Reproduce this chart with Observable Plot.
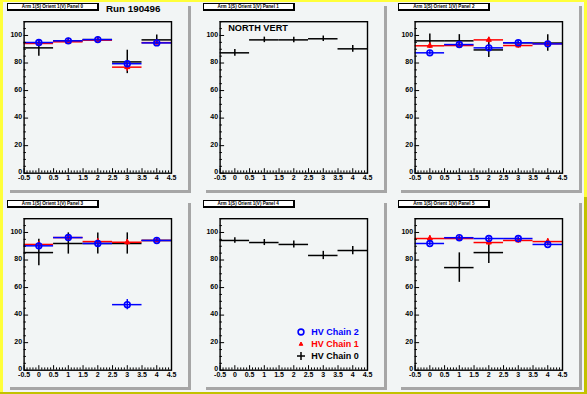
<!DOCTYPE html>
<html><head><meta charset="utf-8">
<script src="https://cdn.jsdelivr.net/npm/d3@7"></script>
<script src="https://cdn.jsdelivr.net/npm/@observablehq/plot@0.6"></script>
<style>
body{margin:0;background:#f2f5f5;}
#canvas{position:relative;width:587px;height:394px;overflow:hidden;background:#f2f5f5;font-family:"Liberation Sans",Arial,sans-serif;}
.pad{position:absolute;width:196px;height:197px;}
.box{position:absolute;left:7px;top:3px;width:181px;height:187px;background:#f2f5f5;box-shadow:3px 3px 0 #a6a6a6;}
.tbox{position:absolute;left:7px;top:3px;width:89px;height:5px;background:#fff;border:1px solid #000;border-right-width:2px;border-bottom-width:2px;font-size:4.6px;line-height:5px;text-align:center;font-weight:bold;white-space:nowrap;overflow:hidden;}
.pad svg{position:absolute;left:0;top:0;overflow:visible;}
.note{position:absolute;font-weight:bold;white-space:nowrap;line-height:1;}
.leg{position:absolute;font-weight:bold;font-size:9px;white-space:nowrap;line-height:1;}
.edge{position:absolute;}
</style>
</head><body>
<div id="canvas"></div>
<script>
const bins = [0, 1, 2, 3, 4];
const panelTitles = ["Arm 1(S) Orient 1(V) Panel 0","Arm 1(S) Orient 1(V) Panel 1","Arm 1(S) Orient 1(V) Panel 2",
                     "Arm 1(S) Orient 1(V) Panel 3","Arm 1(S) Orient 1(V) Panel 4","Arm 1(S) Orient 1(V) Panel 5"];
const xTicks = [-0.5, 0, 0.5, 1, 1.5, 2, 2.5, 3, 3.5, 4, 4.5];
const yTicks = [0, 20, 40, 60, 80, 100];
const legendLabels = ["HV Chain 2", "HV Chain 1", "HV Chain 0"];
const runLabel = "Run 190496";
const sideLabel = "NORTH VERT";

// HV Chain 0 (black)
const chain0 = [
  [91.0, 96.0, 97.0, 80.8, 96.8],
  [87.4, 96.8, 96.8, 97.6, 90.3],
  [96.1, 96.1, 89.5, 94.7, 94.5],
  [85.4, 92.0, 92.0, 92.0, 94.2],
  [94.2, 92.7, 91.3, 83.3, 86.9],
  [null, 74.5, 85.4, null, null]
];
const chain0Err = [
  [6, 2, 2, 8.5, 3.6],
  [2.5, 2, 2, 2, 2.5],
  [5, 4.5, 5.5, 1, 6],
  [9.6, 7.7, 7.7, 7.7, 1.5],
  [2, 2.2, 2.5, 3, 3],
  [0, 10.7, 8, 0, 0]
];
// HV Chain 1 (red)
const chain1 = [
  [94.2, 95.4, 96.6, 77.0, 94.8],
  [null, null, null, null, null],
  [92.5, 92.7, 96.8, 92.7, 94.0],
  [91.3, 96.3, 93.4, 92.9, 94.2],
  [null, null, null, null, null],
  [95.6, 95.6, 92.7, 94.2, 93.4]
];
const chain1Err = [
  [2, 1.5, 1.5, 3, 1.5],
  [0, 0, 0, 0, 0],
  [2, 2, 2, 2, 1.5],
  [2, 1.5, 2, 2, 1.5],
  [0, 0, 0, 0, 0],
  [2, 1.5, 2, 2, 2]
];
// HV Chain 2 (blue)
const chain2 = [
  [94.9, 96.1, 97.0, 79.5, 94.6],
  [null, null, null, null, null],
  [87.4, 93.4, 91.0, 94.7, 93.9],
  [90.3, 96.3, 92.0, 47.6, 94.2],
  [null, null, null, null, null],
  [92.0, 96.2, 95.6, 95.6, 91.3]
];
const chain2Err = [
  [1.5, 1.2, 1.2, 2, 1.2],
  [0, 0, 0, 0, 0],
  [1.5, 1.5, 1.5, 1.2, 1.2],
  [2, 1.5, 2, 3.7, 1.2],
  [0, 0, 0, 0, 0],
  [1.5, 1.2, 1.2, 1.2, 1.2]
];

const BLUE = "#0000ff", RED = "#ff0000", BLACK = "#000000";
const canvas = document.getElementById("canvas");
const colX = [0, 195.67, 391.33], rowY = [0, 197];

function series(vals, errs, color, symbol) {
  const data = bins.map((b, i) => ({x: b, v: vals[i], e: errs[i]})).filter(d => d.v != null);
  const m = [
    Plot.ruleY(data, {y: "v", x1: d => d.x - 0.5, x2: d => d.x + 0.5, stroke: color, strokeWidth: 1.5}),
    Plot.ruleX(data, {x: "x", y1: d => d.v - d.e, y2: d => d.v + d.e, stroke: color, strokeWidth: 1.5})
  ];
  if (symbol === "circle") m.push(Plot.dot(data, {x: "x", y: "v", r: 2.9, stroke: color, strokeWidth: 1.6, fill: "none"}));
  if (symbol === "triangle") m.push(Plot.dot(data, {x: "x", y: "v", r: 1.9, symbol: "triangle", stroke: color, strokeWidth: 1, fill: color}));
  return m;
}

const yMinor = d3.range(0, 111, 5).filter(v => v % 20 !== 0);
const xMinor = d3.range(-5, 46, 1).map(v => v / 10).filter(v => Math.round(v * 10) % 5 !== 0);

panelTitles.forEach((title, k) => {
  const col = k % 3, row = Math.floor(k / 3);
  const pad = document.createElement("div");
  pad.className = "pad";
  pad.style.left = colX[col] + "px";
  pad.style.top = rowY[row] + "px";
  const box = document.createElement("div"); box.className = "box"; pad.appendChild(box);
  const tb = document.createElement("div"); tb.className = "tbox"; tb.textContent = title; pad.appendChild(tb);

  const chart = Plot.plot({
    width: 196, height: 197,
    marginLeft: 23.6, marginRight: 25, marginTop: 21.2, marginBottom: 24.3,
    style: {background: "transparent", fontFamily: "Liberation Sans, Arial, sans-serif", fontSize: "7px", fontWeight: "bold", color: "#000"},
    x: {domain: [-0.5, 4.5]},
    y: {domain: [0, 110]},
    marks: [
      ...series(chain0[k], chain0Err[k], BLACK, null),
      ...series(chain1[k], chain1Err[k], RED, "triangle"),
      ...series(chain2[k], chain2Err[k], BLUE, "circle"),
      Plot.axisY({ticks: yTicks, tickSize: 0, tickPadding: 2, dy: -1, tickFormat: d => `${d}`, label: null}),
      Plot.axisY({ticks: yTicks, tickSize: -4.5, fill: "none", label: null}),
      Plot.axisY({ticks: yMinor, tickSize: -2.3, fill: "none", label: null}),
      Plot.axisX({ticks: xTicks, tickSize: 0, tickPadding: 2, tickFormat: d => `${d}`, label: null}),
      Plot.axisX({ticks: xTicks, tickSize: -4.5, fill: "none", label: null}),
      Plot.axisX({ticks: xMinor, tickSize: -2.3, fill: "none", label: null}),
      Plot.frame({stroke: "#000", strokeWidth: 1.4})
    ]
  });
  pad.appendChild(chart);

  if (k === 0) {
    const t = document.createElement("div"); t.className = "note"; t.textContent = runLabel;
    t.style.fontSize = "9.8px"; t.style.left = "106px"; t.style.top = "4px"; pad.appendChild(t);
  }
  if (k === 1) {
    const t = document.createElement("div"); t.className = "note"; t.textContent = sideLabel;
    t.style.fontSize = "9.2px"; t.style.left = "32.5px"; t.style.top = "23.5px"; pad.appendChild(t);
  }
  if (k === 4) {
    const colors = [BLUE, RED, BLACK];
    const syms = [
      `<circle cx="5" cy="5" r="2.9" fill="none" stroke="${BLUE}" stroke-width="1.6"/>`,
      `<path d="M5,3 L6.8,6.3 L3.2,6.3 Z" fill="${RED}" stroke="${RED}" stroke-width="1"/>`,
      `<path d="M5,1 V9 M1,5 H9" stroke="${BLACK}" stroke-width="1.5"/>`
    ];
    legendLabels.forEach((lab, i) => {
      const y = 135.3 + i * 11.9;
      const s = document.createElementNS("http://www.w3.org/2000/svg", "svg");
      s.setAttribute("width", 10); s.setAttribute("height", 10);
      s.style.left = (105.3 - 5) + "px"; s.style.top = (y - 5) + "px";
      s.innerHTML = syms[i];
      pad.appendChild(s);
      const t = document.createElement("div"); t.className = "leg"; t.textContent = lab;
      t.style.color = colors[i]; t.style.left = "115.5px"; t.style.top = (y - 4.6) + "px";
      pad.appendChild(t);
    });
  }
  canvas.appendChild(pad);
});

// canvas bevel edges
[
  {l: 0, t: 0, w: 587, h: 2, c: "#ffff3a"},
  {l: 0, t: 0, w: 3, h: 394, c: "#ffff3a"},
  {l: 584, t: 0, w: 3, h: 197, c: "#ffff3a"},
  {l: 584, t: 197, w: 3, h: 197, c: "#c2c200"},
  {l: 0, t: 392, w: 587, h: 2, c: "#c2c200"}
].forEach(e => {
  const d = document.createElement("div"); d.className = "edge";
  Object.assign(d.style, {left: e.l + "px", top: e.t + "px", width: e.w + "px", height: e.h + "px", background: e.c});
  canvas.appendChild(d);
});
</script>
</body></html>
